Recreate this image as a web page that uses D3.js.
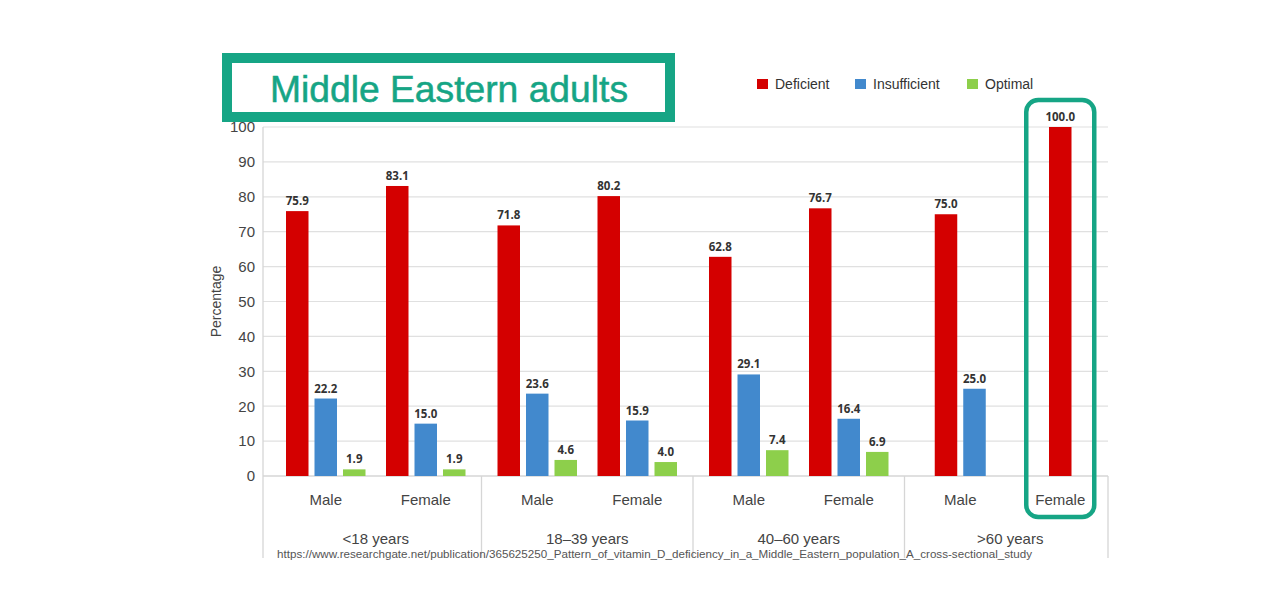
<!DOCTYPE html>
<html><head><meta charset="utf-8">
<script src="https://cdn.jsdelivr.net/npm/d3@7"></script>
<style>body{margin:0;background:#fff;}svg{display:block;}</style>
</head><body>
<svg id="chart" width="1280" height="615"></svg>
<script>
const groups = ["<18 years", "18–39 years", "40–60 years", ">60 years"];
const sexes = ["Male", "Female"];
const seriesNames = ["Deficient", "Insufficient", "Optimal"];
const deficient =    [75.9, 83.1, 71.8, 80.2, 62.8, 76.7, 75.0, 100.0];
const insufficient = [22.2, 15.0, 23.6, 15.9, 29.1, 16.4, 25.0, null];
const optimal =      [1.9, 1.9, 4.6, 4.0, 7.4, 6.9, null, null];
const yTicks = [0, 10, 20, 30, 40, 50, 60, 70, 80, 90, 100];
const colors = ["#d40000", "#4289cd", "#8dcf4b"];
const teal = "#16a585";
const sourceText = "https://www.researchgate.net/publication/365625250_Pattern_of_vitamin_D_deficiency_in_a_Middle_Eastern_population_A_cross-sectional_study";

(function() {
const seriesValues = [deficient, insufficient, optimal];
const rows = [];
groups.forEach((g, gi) => sexes.forEach((s, si) => {
  const idx = gi * 2 + si;
  rows.push({group: g, sex: s, idx, values: seriesNames.map((n, k) => ({name: n, k, v: seriesValues[k][idx]})).filter(d => d.v != null)});
}));

const svg = d3.select("#chart");
const pLeft = 263, pRight = 1108, pTop = 127, base = 476, bottomEdge = 558;

const y = d3.scaleLinear().domain([0, 100]).range([base, pTop]);
const xg = d3.scaleBand().domain(groups).range([270, 1116]);
const xs = d3.scaleBand().domain(sexes).range([0, xg.bandwidth()]).paddingOuter((xg.bandwidth() - 200) / 200);
const barW = 22.5, barStep = 28.5;

// gridlines
svg.append("g").selectAll("line").data(yTicks.filter(t => t > 0)).join("line")
  .attr("x1", pLeft).attr("x2", pRight).attr("y1", d => y(d)).attr("y2", d => y(d))
  .attr("stroke", "#e0e0e0").attr("stroke-width", 1.2);

// y axis
const yAxis = svg.append("g").attr("transform", `translate(${pLeft},0)`)
  .call(d3.axisLeft(y).tickValues(yTicks).tickSize(0).tickPadding(8));
yAxis.select(".domain").remove();
yAxis.selectAll("text").attr("font-family", "Liberation Sans, Arial, sans-serif").attr("font-size", 15).attr("fill", "#444");

svg.append("text").attr("transform", `translate(221,${(pTop + base) / 2}) rotate(-90)`)
  .attr("text-anchor", "middle").attr("font-family", "Liberation Sans, Arial, sans-serif")
  .attr("font-size", 14).attr("fill", "#444").text("Percentage");

// frame lines
svg.append("line").attr("x1", pLeft).attr("x2", pLeft).attr("y1", pTop).attr("y2", bottomEdge).attr("stroke", "#d6d6d6").attr("stroke-width", 1.3);
svg.append("line").attr("x1", pLeft).attr("x2", pRight).attr("y1", base).attr("y2", base).attr("stroke", "#d6d6d6").attr("stroke-width", 1.3);
svg.append("line").attr("x1", pRight).attr("x2", pRight).attr("y1", base).attr("y2", bottomEdge).attr("stroke", "#d6d6d6").attr("stroke-width", 1.3);
svg.append("g").selectAll("line").data(groups.slice(1)).join("line")
  .attr("x1", d => xg(d)).attr("x2", d => xg(d)).attr("y1", base).attr("y2", bottomEdge)
  .attr("stroke", "#d6d6d6").attr("stroke-width", 1.3);

const subX = d => xg(d.group) + xs(d.sex) + xs.bandwidth() / 2;

// bars
const sub = svg.append("g").selectAll("g").data(rows).join("g");
sub.each(function(d) {
  const n = d.values.length;
  const cx = subX(d);
  const g = d3.select(this);
  d.values.forEach((v, i) => {
    const bx = cx + (i - (n - 1) / 2) * barStep;
    g.append("rect").attr("x", bx - barW / 2).attr("width", barW)
      .attr("y", y(v.v)).attr("height", y(0) - y(v.v)).attr("fill", colors[v.k]);
    g.append("text").attr("x", bx).attr("y", y(v.v) - 6).attr("text-anchor", "middle")
      .attr("font-family", "Open Sans, Noto Sans, sans-serif").attr("font-weight", "bold")
      .attr("font-size", 11.5).attr("fill", "#333").text(v.v.toFixed(1));
  });
});

// sub labels
svg.append("g").selectAll("text").data(rows).join("text")
  .attr("x", d => subX(d)).attr("y", 505).attr("text-anchor", "middle")
  .attr("font-family", "Liberation Sans, Arial, sans-serif").attr("font-size", 15).attr("fill", "#444")
  .text(d => d.sex);

// group labels
svg.append("g").selectAll("text").data(groups).join("text")
  .attr("x", d => xg(d) + xg.bandwidth() / 2).attr("y", 544).attr("text-anchor", "middle")
  .attr("font-family", "Liberation Sans, Arial, sans-serif").attr("font-size", 15).attr("fill", "#444")
  .text(d => d);

// source
svg.append("text").attr("x", 277).attr("y", 558).attr("textLength", 755).attr("lengthAdjust", "spacingAndGlyphs")
  .attr("font-family", "Liberation Sans, Arial, sans-serif").attr("font-size", 11).attr("fill", "#555")
  .text(sourceText);

// legend
const legX = [757, 855, 967];
const leg = svg.append("g").selectAll("g").data(seriesNames).join("g")
  .attr("transform", (d, i) => `translate(${legX[i]},79)`);
leg.append("rect").attr("width", 11).attr("height", 10).attr("fill", (d, i) => colors[i]);
leg.append("text").attr("x", 18).attr("y", 10).attr("font-family", "Liberation Sans, Arial, sans-serif")
  .attr("font-size", 14).attr("fill", "#333").text(d => d);

// title box
svg.append("rect").attr("x", 227).attr("y", 58).attr("width", 443).attr("height", 59)
  .attr("fill", "#fff").attr("stroke", teal).attr("stroke-width", 10);
svg.append("text").attr("x", 270).attr("y", 102)
  .attr("textLength", 358).attr("lengthAdjust", "spacingAndGlyphs")
  .attr("font-family", "Liberation Sans, Arial, sans-serif").attr("font-size", 36).attr("fill", teal)
  .attr("stroke", teal).attr("stroke-width", 0.5)
  .text("Middle Eastern adults");

// highlight box around Female >60
const hl = rows[rows.length - 1];
svg.append("rect").attr("x", subX(hl) - 34).attr("y", 100).attr("width", 68).attr("height", 417)
  .attr("rx", 12).attr("fill", "none").attr("stroke", teal).attr("stroke-width", 4.5);
})();
</script>
</body></html>
